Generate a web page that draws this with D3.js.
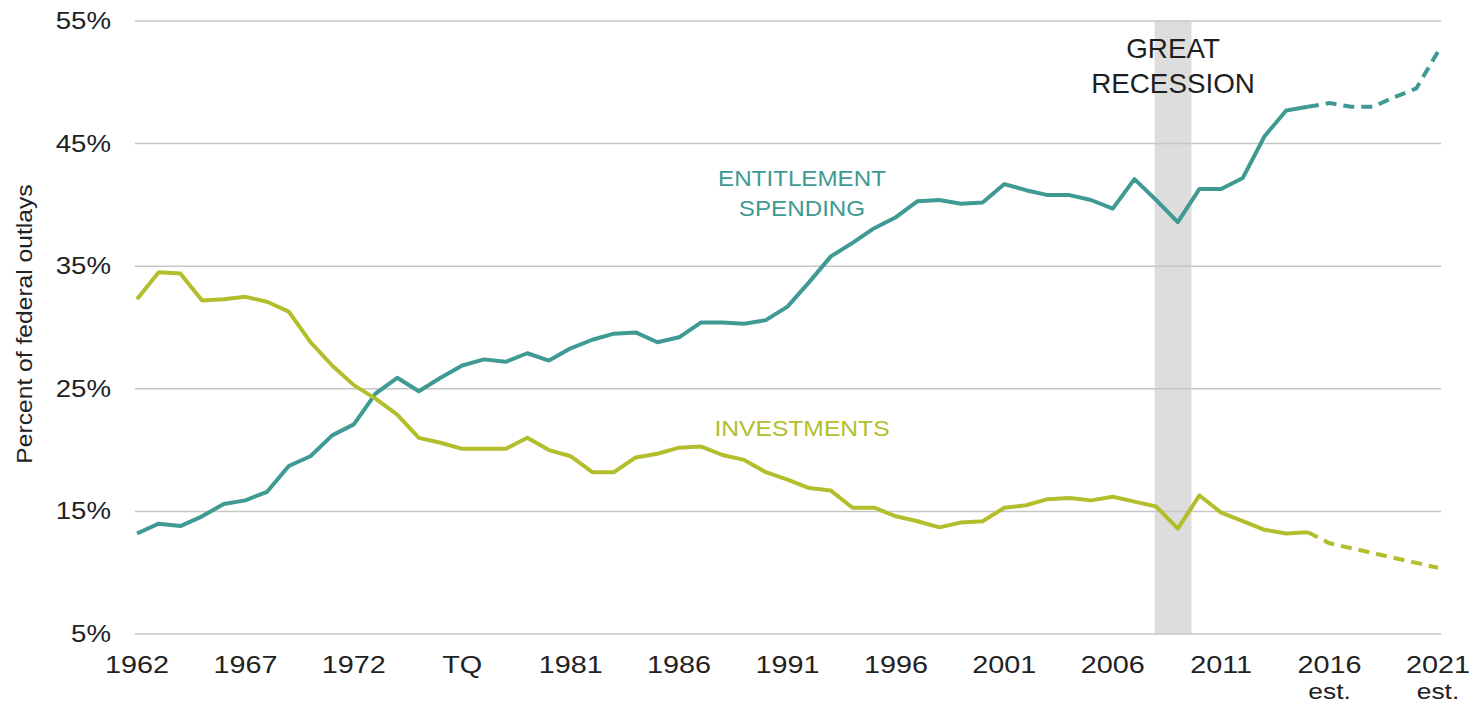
<!DOCTYPE html>
<html>
<head>
<meta charset="utf-8">
<script src="https://cdn.jsdelivr.net/npm/d3@7/dist/d3.min.js"></script>
<style>
  body { margin: 0; background: #fff; }
  svg { display: block; font-family: "Liberation Sans", Arial, sans-serif; }
</style>
</head>
<body>
<svg id="chart"></svg>
<script>
// fiscal years, TQ = transition quarter of 1976
const categories = ['1962','1963','1964','1965','1966','1967','1968','1969','1970','1971',
  '1972','1973','1974','1975','1976','TQ','1977','1978','1979','1980',
  '1981','1982','1983','1984','1985','1986','1987','1988','1989','1990',
  '1991','1992','1993','1994','1995','1996','1997','1998','1999','2000',
  '2001','2002','2003','2004','2005','2006','2007','2008','2009','2010',
  '2011','2012','2013','2014','2015','2016','2017','2018','2019','2020','2021']

const entitlement = [13.2,14.0,13.8,14.6,15.6,15.9,16.6,18.7,19.5,21.2,
  22.1,24.6,25.9,24.8,25.9,26.9,27.4,27.2,27.9,27.3,
  28.3,29.0,29.5,29.6,28.8,29.2,30.4,30.4,30.3,30.6,
  31.7,33.7,35.8,36.9,38.1,39.0,40.3,40.4,40.1,40.2,
  41.7,41.2,40.8,40.8,40.4,39.7,42.1,40.4,38.6,41.3,
  41.3,42.2,45.6,47.7,48.0,48.3,48.0,48.0,48.8,49.5,52.5]

const investments = [32.3,34.5,34.4,32.2,32.3,32.5,32.1,31.3,28.8,26.9,
  25.3,24.2,22.9,21.0,20.6,20.1,20.1,20.1,21.0,20.0,
  19.5,18.2,18.2,19.4,19.7,20.2,20.3,19.6,19.2,18.2,
  17.6,16.9,16.7,15.3,15.3,14.6,14.2,13.7,14.1,14.2,
  15.3,15.5,16.0,16.1,15.9,16.2,15.8,15.4,13.6,16.3,
  14.9,14.2,13.5,13.2,13.3,12.4,12.0,11.6,11.2,10.8,10.4]

const lastActual = '2015'          // estimates (dashed) after this year
const recession = ['2008', '2009'] // shaded band
const yTicks = [5, 15, 25, 35, 45, 55]
const xTicks = ['1962','1967','1972','TQ','1981','1986','1991','1996','2001','2006','2011','2016','2021']
const xTickNotes = ['','','','','','','','','','','','est.','est.']

const width = 1483, height = 705
const svg = d3.select('#chart').attr('width', width).attr('height', height)

const x = d3.scalePoint().domain(categories).range([137, 1438])
const y = d3.scaleLinear().domain([5, 55]).range([634, 21])

const teal = '#3f9a93'
const green = '#b3be2c'

// recession band (ends part way through 2009)
svg.append('rect')
  .attr('x', x(recession[0]) - 1.5)
  .attr('y', y(55))
  .attr('width', x(recession[1]) - x(recession[0]) + x.step() * 0.7)
  .attr('height', y(5) - y(55))
  .attr('fill', '#dddddd')

// gridlines
svg.selectAll('.grid').data(yTicks).enter()
  .append('line').attr('class', 'grid')
  .attr('x1', 135).attr('x2', 1441)
  .attr('y1', d => y(d)).attr('y2', d => y(d))
  .attr('stroke', '#c6c6c6').attr('stroke-width', 1.5)

// y tick labels
svg.selectAll('.ylab').data(yTicks).enter()
  .append('text').attr('class', 'ylab')
  .attr('transform', d => `translate(111,${y(d) + 8}) scale(1.2,1)`)
  .attr('text-anchor', 'end')
  .attr('font-size', 23)
  .attr('fill', '#222')
  .text(d => d + '%')

// x tick labels
const xg = svg.selectAll('.xlab').data(xTicks).enter()
  .append('g').attr('class', 'xlab')
  .attr('transform', d => `translate(${x(d)},673) scale(1.2,1)`)
xg.append('text')
  .attr('text-anchor', 'middle').attr('font-size', 24).attr('fill', '#222')
  .text(d => d)
xg.append('text')
  .attr('y', 26)
  .attr('text-anchor', 'middle').attr('font-size', 22).attr('fill', '#222')
  .text((d, i) => xTickNotes[i])

// y axis title
svg.append('text')
  .attr('transform', 'translate(32,324) rotate(-90) scale(1.12,1)')
  .attr('text-anchor', 'middle')
  .attr('font-size', 22)
  .attr('fill', '#222')
  .text('Percent of federal outlays')

// lines
const cut = categories.indexOf(lastActual)
const line = d3.line()
  .x(d => x(d.cat))
  .y(d => y(d.v))

function drawSeries(values, color) {
  const pts = values.map((v, i) => ({cat: categories[i], v: v}))
  svg.append('path')
    .attr('d', line(pts.slice(0, cut + 1)))
    .attr('fill', 'none').attr('stroke', color)
    .attr('stroke-width', 4).attr('stroke-linejoin', 'round')
  svg.append('path')
    .attr('d', line(pts.slice(cut)))
    .attr('fill', 'none').attr('stroke', color)
    .attr('stroke-width', 4).attr('stroke-dasharray', '11,7')
}
drawSeries(entitlement, teal)
drawSeries(investments, green)

// annotations
function label(lines, cx, y0, lh, size, color, sx) {
  lines.forEach((t, i) => {
    svg.append('text')
      .attr('transform', `translate(${cx},${y0 + i * lh}) scale(${sx},1)`)
      .attr('text-anchor', 'middle')
      .attr('font-size', size)
      .attr('fill', color)
      .text(t)
  })
}
label(['ENTITLEMENT', 'SPENDING'], 802, 186, 30, 22, teal, 1.1)
label(['INVESTMENTS'], 802, 436, 0, 22, green, 1.12)
const bandMid = x(recession[0]) - 1.5 + (x(recession[1]) - x(recession[0]) + x.step() * 0.7) / 2
label(['GREAT', 'RECESSION'], bandMid, 58, 35, 27, '#1e1e1e', 1.03)
</script>
</body>
</html>
